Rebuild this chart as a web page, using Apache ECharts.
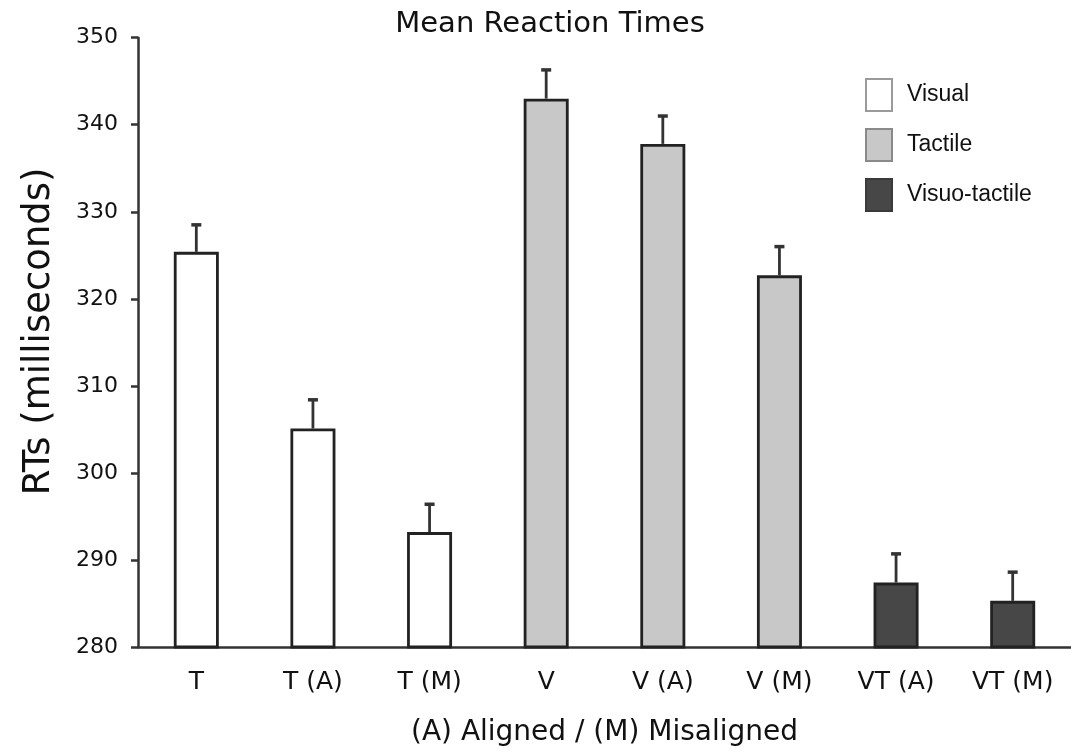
<!DOCTYPE html>
<html>
<head>
<meta charset="utf-8">
<title>Mean Reaction Times</title>
<script src="https://cdn.jsdelivr.net/npm/echarts@6/dist/echarts.min.js"></script>
<style>
  html, body { margin: 0; padding: 0; background: #fff; }
  #chart { width: 1071px; height: 752px; }
</style>
</head>
<body>
<div id="chart"></div>
<script>
// conditions on the x axis
var categories = ['T', 'T (A)', 'T (M)', 'V', 'V (A)', 'V (M)', 'VT (A)', 'VT (M)'];
// mean RT per condition (ms)
var means = [325.4, 305.1, 293.2, 343.0, 337.8, 322.7, 287.4, 285.3];
// error bar (upper only)
var errors = [3.1, 3.3, 3.2, 3.3, 3.2, 3.3, 3.3, 3.3];
// which modality each condition belongs to
var groups = ['Visual', 'Visual', 'Visual', 'Tactile', 'Tactile', 'Tactile', 'Visuo-tactile', 'Visuo-tactile'];
var seriesNames = ['Visual', 'Tactile', 'Visuo-tactile'];
var yTicks = { min: 280, max: 350, step: 10 };

var fills = { 'Visual': '#ffffff', 'Tactile': '#c8c8c8', 'Visuo-tactile': '#474747' };
var legendBorders = { 'Visual': '#9a9a9a', 'Tactile': '#8a8a8a', 'Visuo-tactile': '#3a3a3a' };

var chart = echarts.init(document.getElementById('chart'));

var barSeries = seriesNames.map(function (name) {
    return {
        name: name,
        type: 'bar',
        barWidth: 45,
        barGap: '-100%',
        data: means.map(function (m, i) { return groups[i] === name ? m : '-'; }),
        itemStyle: { color: fills[name], borderColor: '#222', borderWidth: 2.8 },
        emphasis: { disabled: true },
        z: 2
    };
});

var errData = means.map(function (m, i) { return [i, m, errors[i]]; });

var option = {
    backgroundColor: '#fff',
    animation: false,
    title: {
        text: 'Mean Reaction Times',
        left: 550,
        textAlign: 'center',
        top: 10,
        padding: 0,
        textStyle: { fontFamily: 'DejaVu Sans', fontSize: 29, fontWeight: 'normal', color: '#111' }
    },
    legend: {
        orient: 'vertical',
        left: 865,
        top: 78,
        padding: 0,
        itemWidth: 26,
        itemHeight: 32,
        itemGap: 16,
        icon: 'rect',
        textStyle: { fontFamily: 'Liberation Sans', fontSize: 23, color: '#111', padding: [4, 0, 0, 10] },
        data: seriesNames.map(function (n) {
            return { name: n, itemStyle: { color: fills[n], borderColor: legendBorders[n], borderWidth: 2 } };
        })
    },
    grid: { left: 138, right: 0, top: 37.7, bottom: 104 },
    xAxis: {
        type: 'category',
        data: categories,
        name: '(A) Aligned / (M) Misaligned',
        nameLocation: 'middle',
        nameGap: 72,
        nameTextStyle: { fontFamily: 'DejaVu Sans', fontSize: 28, color: '#111' },
        axisLine: { lineStyle: { color: '#333', width: 2.5 } },
        axisTick: { length: 6, lineStyle: { color: '#333', width: 2.5 } },
        axisLabel: { fontFamily: 'DejaVu Sans', fontSize: 25, color: '#111', margin: 23 }
    },
    yAxis: {
        type: 'value',
        min: yTicks.min,
        max: yTicks.max,
        interval: yTicks.step,
        name: 'RTs (milliseconds)',
        nameLocation: 'middle',
        nameGap: 80,
        nameTextStyle: { fontFamily: 'DejaVu Sans', fontSize: 37, color: '#111', padding: [0, 0, 0, 22] },
        axisLine: { show: true, lineStyle: { color: '#333', width: 2.5 } },
        axisTick: { show: true, length: 7, lineStyle: { color: '#333', width: 2.5 } },
        axisLabel: { fontFamily: 'DejaVu Sans', fontSize: 22, color: '#111', margin: 20 },
        splitLine: { show: false }
    },
    series: barSeries.concat([{
        name: 'error',
        type: 'custom',
        data: errData,
        z: 3,
        renderItem: function (params, api) {
            var x = api.value(0);
            var lo = api.coord([x, api.value(1)]);
            var hi = api.coord([x, api.value(1) + api.value(2)]);
            var half = 5;
            return {
                type: 'group',
                children: [{
                    type: 'line',
                    shape: { x1: lo[0], y1: lo[1], x2: hi[0], y2: hi[1] },
                    style: { stroke: '#333', lineWidth: 2.8 }
                }, {
                    type: 'line',
                    shape: { x1: hi[0] - half, y1: hi[1], x2: hi[0] + half, y2: hi[1] },
                    style: { stroke: '#333', lineWidth: 3.5 }
                }]
            };
        }
    }])
};

chart.setOption(option);
</script>
</body>
</html>
